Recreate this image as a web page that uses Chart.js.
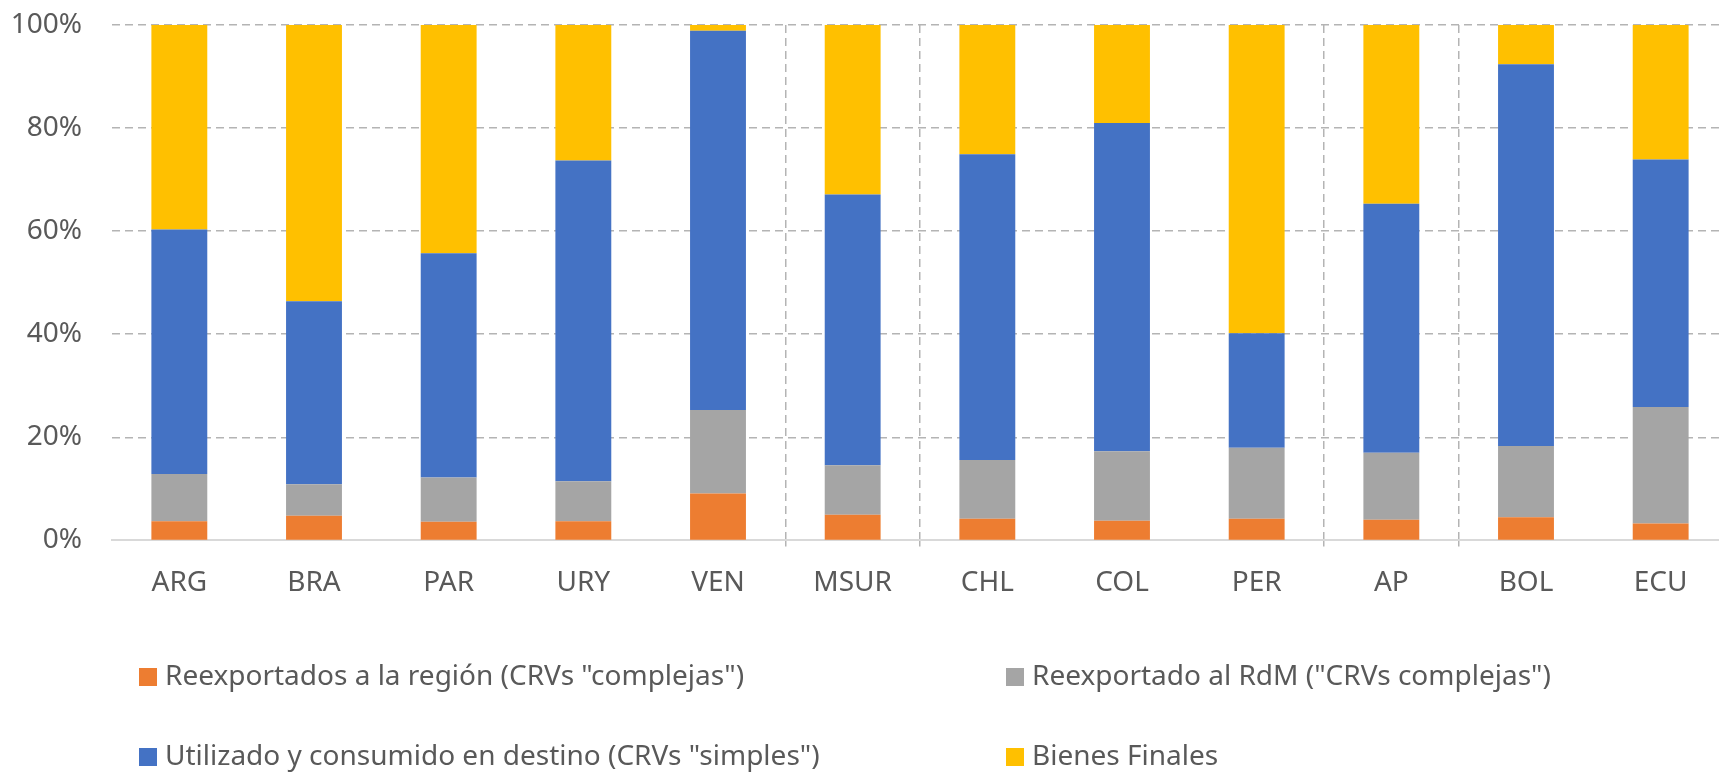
<!DOCTYPE html>
<html>
<head>
<meta charset="utf-8">
<script src="https://cdn.jsdelivr.net/npm/chart.js@4/dist/chart.umd.min.js"></script>
<style>
	html, body { margin: 0; padding: 0; background: #fff; overflow: hidden; }
	#wrap { width: 1730px; height: 772px; }
</style>
</head>
<body>
<div id="wrap"><canvas id="barChart" width="1730" height="772"></canvas></div>
<script>
// categories and shares (%)
const categories = ["ARG", "BRA", "PAR", "URY", "VEN", "MSUR", "CHL", "COL", "PER", "AP", "BOL", "ECU"];
const reexportRegion = [3.7, 4.8, 3.6, 3.7, 9.1, 5.0, 4.2, 3.8, 4.2, 4.0, 4.5, 3.3];
const reexportRdm = [9.2, 6.1, 8.6, 7.8, 16.2, 9.6, 11.4, 13.5, 13.8, 13.0, 13.8, 22.6];
const usedInDestination = [47.4, 35.5, 43.5, 62.2, 73.6, 52.5, 59.3, 63.7, 22.2, 48.3, 74.1, 48.0];
const finalGoods = [39.7, 53.6, 44.3, 26.3, 1.1, 32.9, 25.1, 19.0, 59.8, 34.7, 7.6, 26.1];
const yTicks = [0, 20, 40, 60, 80, 100];
// group separators sit left of these categories
const separatorsBefore = [5, 6, 9, 10];

const FONT = "'Noto Sans', 'DejaVu Sans', sans-serif";
const TEXT = "#595959";
const GRID = "#b4b4b4";

// legend laid out as a 2x2 grid like the original
const gridLegend = {
	id: "gridLegend",
	afterDraw(chart) {
		const ctx = chart.ctx;
		const cols = [139, 1006];
		const rows = [677, 757];
		ctx.save();
		ctx.font = "28px " + FONT;
		ctx.textBaseline = "middle";
		chart.data.datasets.forEach((ds, i) => {
			const x = cols[i % 2];
			const y = rows[Math.floor(i / 2)];
			ctx.fillStyle = ds.backgroundColor;
			ctx.fillRect(x, y - 9, 18, 18);
			ctx.fillStyle = TEXT;
			ctx.fillText(ds.label, x + 26, y);
		});
		ctx.restore();
	},
};

const ctxBar = document.getElementById("barChart");
new Chart(ctxBar, {
	type: "bar",
	data: {
		labels: categories,
		datasets: [
			{ label: "Reexportados a la región (CRVs \"complejas\")", data: reexportRegion, backgroundColor: "#ED7D31" },
			{ label: "Reexportado al RdM (\"CRVs complejas\")", data: reexportRdm, backgroundColor: "#A5A5A5" },
			{ label: "Utilizado y consumido en destino (CRVs \"simples\")", data: usedInDestination, backgroundColor: "#4472C4" },
			{ label: "Bienes Finales", data: finalGoods, backgroundColor: "#FFC000" },
		],
	},
	options: {
		responsive: false,
		animation: false,
		layout: { padding: { left: 0, top: 25, right: 2, bottom: 152 } },
		datasets: { bar: { categoryPercentage: 1, barPercentage: 0.415, borderWidth: 0 } },
		plugins: {
			legend: { display: false },
			tooltip: { enabled: false },
		},
		scales: {
			x: {
				stacked: true,
				grid: {
					offset: true,
					lineWidth: 1.5,
					tickLength: 6,
					color: (c) => separatorsBefore.includes(c.index) ? GRID : "rgba(0,0,0,0)",
				},
				border: { display: true, color: "#d9d9d9", width: 2, dash: [8, 5] },
				ticks: { color: TEXT, font: { family: FONT, size: 28 }, padding: 20 },
			},
			y: {
				stacked: true,
				min: 0,
				max: 100,
				afterFit: (scale) => { scale.width = 112; },
				afterBuildTicks: (scale) => { scale.ticks = yTicks.map((v) => ({ value: v })); },
				grid: {
					drawTicks: true,
					tickLength: 24,
					tickColor: "rgba(0,0,0,0)",
					lineWidth: 1.5,
					color: (c) => c.tick && c.tick.value === 0 ? "rgba(0,0,0,0)" : GRID,
				},
				border: { display: false, dash: [8, 5] },
				ticks: {
					color: TEXT,
					font: { family: FONT, size: 28 },
					padding: 6,
					callback: (v) => v + "%",
				},
			},
		},
	},
	plugins: [gridLegend],
});
</script>
</body>
</html>
